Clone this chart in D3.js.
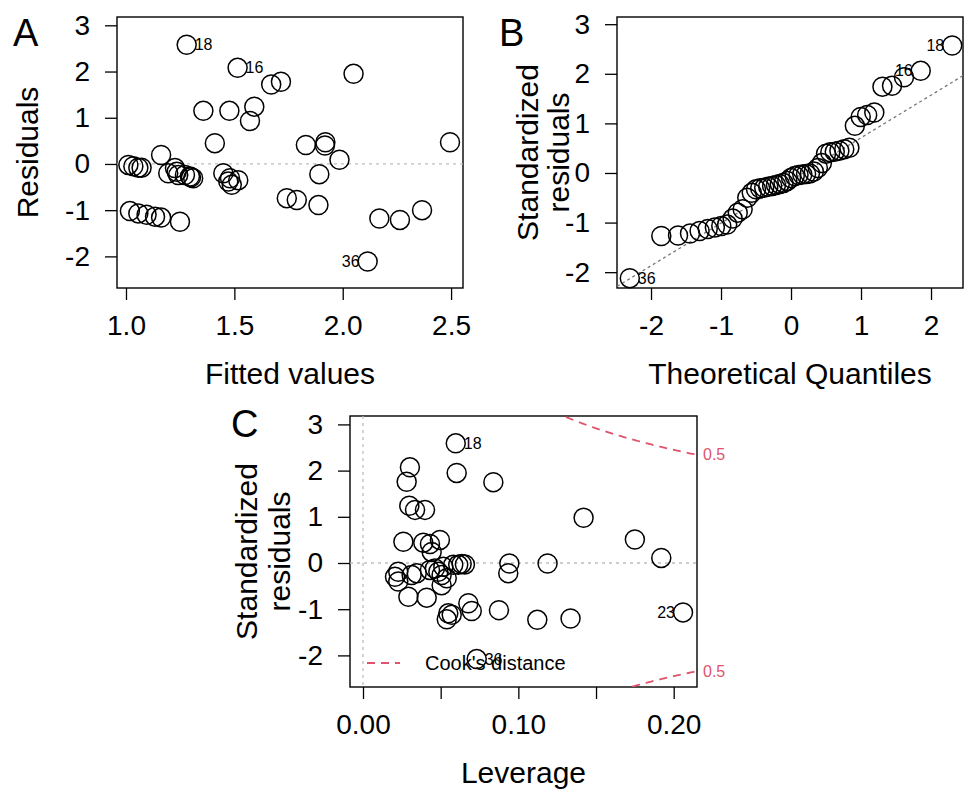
<!DOCTYPE html>
<html>
<head>
<meta charset="utf-8">
<script src="https://cdn.jsdelivr.net/npm/d3@7"></script>
<style>
  body { margin: 0; background: #fff; }
  svg text { font-family: "Liberation Sans", Arial, sans-serif; fill: #000; }
</style>
</head>
<body>
<svg id="chart" width="965" height="792"></svg>
<script>
// DATA
// A: residuals vs fitted
const fitted = [1.28, 1.515, 1.67, 1.715, 2.05, 1.357, 1.477, 1.592, 1.572, 1.41, 1.162, 1.83, 1.92, 1.918, 1.985, 2.495,
    1.011, 1.034, 1.057, 1.072, 1.195, 1.226, 1.234, 1.241, 1.272, 1.295, 1.31, 1.30, 1.449, 1.472, 1.488, 1.48, 1.518,
    1.892, 1.742, 1.788, 1.888, 2.115, 2.169, 2.264, 2.366, 1.018, 1.057, 1.095, 1.134, 1.162, 1.249];
const resid = [2.58, 2.08, 1.72, 1.78, 1.95, 1.15, 1.15, 1.24, 0.93, 0.45, 0.195, 0.41, 0.47, 0.40, 0.09, 0.47,
    -0.02, -0.05, -0.08, -0.08, -0.20, -0.09, -0.17, -0.24, -0.24, -0.27, -0.31, -0.29, -0.20, -0.38, -0.45, -0.31, -0.35,
    -0.22, -0.74, -0.78, -0.89, -2.11, -1.18, -1.21, -1.00, -1.02, -1.07, -1.10, -1.14, -1.16, -1.25];
const idsA = [[0, "18"], [1, "16"], [37, "36"]];

// B: normal Q-Q
const qqTheo = [-2.303, -1.853, -1.614, -1.443, -1.306, -1.190, -1.088, -0.996, -0.912, -0.834, -0.761, -0.691,
    -0.625, -0.561, -0.500, -0.441, -0.383, -0.326, -0.270, -0.215, -0.161, -0.107, -0.053, 0, 0.053, 0.107, 0.161,
    0.215, 0.270, 0.326, 0.383, 0.441, 0.500, 0.561, 0.625, 0.691, 0.761, 0.834, 0.912, 0.996, 1.088, 1.190, 1.306,
    1.443, 1.614, 1.853, 2.303];
const qqStd = [-2.12, -1.27, -1.26, -1.22, -1.17, -1.13, -1.10, -1.07, -1.04, -0.92, -0.80, -0.73, -0.50, -0.40,
    -0.33, -0.31, -0.30, -0.28, -0.26, -0.24, -0.22, -0.20, -0.16, -0.10, -0.06, -0.04, -0.03, -0.02, -0.01, 0.03,
    0.10, 0.20, 0.39, 0.42, 0.43, 0.45, 0.48, 0.51, 0.95, 1.13, 1.17, 1.22, 1.74, 1.76, 1.93, 2.06, 2.57];
const idsB = [[0, "36"], [45, "16"], [46, "18"]];
const qqLine = { intercept: -0.15, slope: 0.86 };

// C: residuals vs leverage
const leverage = [0.0597, 0.0302, 0.0281, 0.0603, 0.0839, 0.0298, 0.0335, 0.0399, 0.142, 0.175, 0.192, 0.026,
    0.0388, 0.0431, 0.0495, 0.0442, 0.1188, 0.0942, 0.0935, 0.0613, 0.0635, 0.0656, 0.0227, 0.0206, 0.0227, 0.0313,
    0.0346, 0.0431, 0.0463, 0.0485, 0.0506, 0.0517, 0.0539, 0.0506, 0.0292, 0.041, 0.0678, 0.070, 0.0549, 0.0571,
    0.0539, 0.0875, 0.1122, 0.1336, 0.206, 0.0732, 0.0581];
const stdRes = [2.59, 2.07, 1.76, 1.95, 1.75, 1.24, 1.15, 1.15, 0.98, 0.51, 0.11, 0.46, 0.44, 0.41, 0.50, 0.24,
    -0.01, -0.01, -0.22, -0.04, -0.02, -0.03, -0.19, -0.30, -0.40, -0.26, -0.22, -0.15, -0.12, -0.19, -0.26, -0.08,
    -0.33, -0.48, -0.73, -0.75, -0.87, -1.04, -1.09, -1.12, -1.22, -1.02, -1.23, -1.20, -1.07, -2.08, -0.04];
const idsC = [[0, "18"], [44, "23"], [45, "36"]];
const cookLevels = [0.5, 1];
const nCoef = 3;

// SETUP
const svg = d3.select("#chart");
svg.append("rect").attr("width", 965).attr("height", 792).attr("fill", "#fff");

const cookRed = "#DF536B";
const R = 9.5;
const plainInt = d => String(d); // keep ASCII hyphen for negatives, like R

// draw box, axes and titles for one panel, return scales + group
function makePanel(p) {
    const w = p.right - p.left, h = p.bottom - p.top;
    const g = svg.append("g").attr("transform", `translate(${p.left},${p.top})`);
    const x = d3.scaleLinear().domain(p.xDomain).range([0, w]);
    const y = d3.scaleLinear().domain(p.yDomain).range([h, 0]);

    g.append("clipPath").attr("id", p.id + "-clip")
        .append("rect").attr("width", w).attr("height", h);

    // x axis
    const xa = g.append("g")
        .attr("transform", `translate(0,${h})`)
        .call(d3.axisBottom(x).tickValues(p.xTicks).tickSize(12).tickPadding(15).tickFormat(p.xFormat));
    // y axis
    const ya = g.append("g")
        .call(d3.axisLeft(y).tickValues(p.yTicks).tickSize(12).tickPadding(15).tickFormat(plainInt));
    [xa, ya].forEach(a => {
        a.select(".domain").remove();
        a.selectAll("line").attr("stroke", "#000").attr("stroke-width", 1.3);
        a.selectAll("text").style("font-size", "28px").attr("fill", "#000");
    });

    // box
    g.append("rect")
        .attr("width", w).attr("height", h)
        .attr("fill", "none").attr("stroke", "#000").attr("stroke-width", 1.4);

    // x title
    g.append("text")
        .attr("text-anchor", "middle")
        .attr("x", w / 2).attr("y", h + 96)
        .style("font-size", "30px")
        .text(p.xTitle);

    // y title (one or two lines)
    p.yTitle.forEach((t, i) => {
        g.append("text")
            .attr("text-anchor", "middle")
            .attr("transform", `translate(${p.yTitleX[i]},${h / 2}) rotate(-90)`)
            .style("font-size", "30px")
            .text(t);
    });

    // panel letter
    svg.append("text")
        .attr("x", p.letterPos[0]).attr("y", p.letterPos[1])
        .style("font-size", "38px")
        .text(p.letter);

    return { g, x, y, w, h };
}

function drawPoints(panel, xs, ys) {
    panel.g.append("g").selectAll("circle")
        .data(xs)
        .enter()
        .append("circle")
        .attr("cx", d => panel.x(d))
        .attr("cy", (d, i) => panel.y(ys[i]))
        .attr("r", R)
        .attr("fill", "none")
        .attr("stroke", "#000")
        .attr("stroke-width", 1.5);
}

// R puts id labels right of points in the left half, left of them in the right half
function drawIds(panel, xs, ys, ids) {
    const mid = d3.mean(panel.x.domain());
    ids.forEach(([i, t]) => {
        const right = xs[i] < mid;
        panel.g.append("text")
            .attr("x", panel.x(xs[i]) + (right ? 8 : -8))
            .attr("y", panel.y(ys[i]))
            .attr("dy", "0.35em")
            .attr("text-anchor", right ? "start" : "end")
            .style("font-size", "16px")
            .text(t);
    });
}

/* ===================== A: Residuals vs Fitted ===================== */
const pA = makePanel({
    id: "a", left: 117, right: 463, top: 17, bottom: 288,
    xDomain: [0.9585, 2.555], yDomain: [-2.684, 3.18],
    xTicks: [1.0, 1.5, 2.0, 2.5], xFormat: d3.format(".1f"),
    yTicks: [-2, -1, 0, 1, 2, 3],
    xTitle: "Fitted values", yTitle: ["Residuals"], yTitleX: [-79],
    letter: "A", letterPos: [13, 46]
});

pA.g.append("line")
    .attr("x1", 0).attr("x2", pA.w)
    .attr("y1", pA.y(0)).attr("y2", pA.y(0))
    .attr("stroke", "#bdbdbd").attr("stroke-width", 1.3).attr("stroke-dasharray", "3,4");

drawPoints(pA, fitted, resid);
drawIds(pA, fitted, resid, idsA);

/* ===================== B: Normal Q-Q ===================== */
const pB = makePanel({
    id: "b", left: 617, right: 963, top: 17, bottom: 288,
    xDomain: [-2.486, 2.457], yDomain: [-2.319, 3.145],
    xTicks: [-2, -1, 0, 1, 2], xFormat: plainInt,
    yTicks: [-2, -1, 0, 1, 2, 3],
    xTitle: "Theoretical Quantiles", yTitle: ["Standardized", "residuals"], yTitleX: [-79, -48],
    letter: "B", letterPos: [499, 46]
});

const qx = pB.x.domain();
pB.g.append("line")
    .attr("clip-path", "url(#b-clip)")
    .attr("x1", pB.x(qx[0])).attr("y1", pB.y(qqLine.intercept + qqLine.slope * qx[0]))
    .attr("x2", pB.x(qx[1])).attr("y2", pB.y(qqLine.intercept + qqLine.slope * qx[1]))
    .attr("stroke", "#777").attr("stroke-width", 1.3).attr("stroke-dasharray", "3,3");

drawPoints(pB, qqTheo, qqStd);
drawIds(pB, qqTheo, qqStd, idsB);

/* ===================== C: Residuals vs Leverage ===================== */
const pC = makePanel({
    id: "c", left: 350, right: 697, top: 416, bottom: 687,
    xDomain: [-0.00837, 0.215], yDomain: [-2.684, 3.182],
    xTicks: [0, 0.05, 0.10, 0.15, 0.20], xFormat: d => (Math.round(d * 100) % 10 === 0 ? d3.format(".2f")(d) : ""),
    yTicks: [-2, -1, 0, 1, 2, 3],
    xTitle: "Leverage", yTitle: ["Standardized", "residuals"], yTitleX: [-93, -60],
    letter: "C", letterPos: [231, 437]
});

// reference lines at 0
pC.g.append("line")
    .attr("x1", 0).attr("x2", pC.w)
    .attr("y1", pC.y(0)).attr("y2", pC.y(0))
    .attr("stroke", "#bdbdbd").attr("stroke-width", 1.3).attr("stroke-dasharray", "3,4");
pC.g.append("line")
    .attr("x1", pC.x(0)).attr("x2", pC.x(0))
    .attr("y1", 0).attr("y2", pC.h)
    .attr("stroke", "#bdbdbd").attr("stroke-width", 1.3).attr("stroke-dasharray", "3,4");

// Cook's distance contours: std.res = +-sqrt(level * p * (1 - h) / h)
const hMax = pC.x.domain()[1];
const hh = d3.range(0.002, hMax + 0.001, 0.001);
cookLevels.forEach(lev => {
    [1, -1].forEach(sgn => {
        const cookLine = d3.line()
            .x(d => pC.x(d))
            .y(d => pC.y(sgn * Math.sqrt(lev * nCoef * (1 - d) / d)));
        pC.g.append("path")
            .datum(hh)
            .attr("clip-path", "url(#c-clip)")
            .attr("d", cookLine)
            .attr("fill", "none")
            .attr("stroke", cookRed).attr("stroke-width", 1.8).attr("stroke-dasharray", "8,6");

        const yEnd = sgn * Math.sqrt(lev * nCoef * (1 - hMax) / hMax);
        if (yEnd > pC.y.domain()[0] && yEnd < pC.y.domain()[1]) {
            pC.g.append("text")
                .attr("x", pC.w + 6).attr("y", pC.y(yEnd))
                .attr("dy", "0.35em")
                .style("fill", cookRed)
                .style("font-size", "16px")
                .text(lev);
        }
    });
});

// legend
pC.g.append("line")
    .attr("x1", 17).attr("x2", 50)
    .attr("y1", pC.h - 24).attr("y2", pC.h - 24)
    .attr("stroke", cookRed).attr("stroke-width", 1.8).attr("stroke-dasharray", "8,6");
pC.g.append("text")
    .attr("x", 75).attr("y", pC.h - 24)
    .attr("dy", "0.35em")
    .style("font-size", "20px")
    .text("Cook's distance");

drawPoints(pC, leverage, stdRes);
drawIds(pC, leverage, stdRes, idsC);
</script>
</body>
</html>
